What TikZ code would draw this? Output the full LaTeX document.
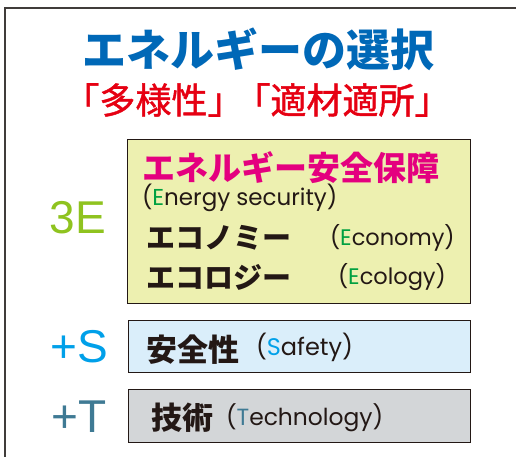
\documentclass[tikz,border=0pt]{standalone}
\usepackage{fontspec}
\setmainfont{Noto Sans CJK JP}
\newfontfamily\medf[FakeBold=1.2]{Noto Sans CJK JP}
\newfontfamily\latf{Poppins}
\newfontfamily\bigf{Liberation Sans}
\definecolor{titleblue}{HTML}{0068B7}
\definecolor{subred}{HTML}{E60012}
\definecolor{magen}{HTML}{E4007F}
\definecolor{egreen}{HTML}{00A040}
\definecolor{threeE}{HTML}{8FC31F}
\definecolor{sblue}{HTML}{00A0E9}
\definecolor{tsteel}{HTML}{3F7A94}
\definecolor{yfill}{HTML}{EDF0B0}
\definecolor{bfill}{HTML}{DAEEFA}
\definecolor{gfill}{HTML}{D3D6D8}
\definecolor{ink}{HTML}{231815}
\definecolor{framec}{HTML}{403C3A}
\tikzset{
  txt/.style={inner sep=0pt, outer sep=0pt, text=ink},
  panel/.style={draw=ink, line width=1pt},
  big/.style={inner sep=0pt, font=\bigf\fontsize{46}{46}\selectfont},
  jpb/.style={txt, anchor=west, font=\bfseries\fontsize{#1}{#1}\selectfont},
  lat/.style={txt, anchor=west, font=\latf\fontsize{#1}{#1}\selectfont},
}
\begin{document}
\begin{tikzpicture}[x=1pt,y=-1pt]
\useasboundingbox (0,0) rectangle (516,457);
\fill[white] (0,0) rectangle (516,457);
\draw[framec, line width=1.6pt] (5,457) -- (5,8) -- (516,8);
% title
\node[txt, text=titleblue, font=\bfseries\fontsize{44}{44}\selectfont] (title) at (258,49) {エネルギーの選択};
\node[txt, text=subred, font=\medf\fontsize{36}{36}\selectfont] (sub) at (257,100) {「多様性」\kern-9pt「適材適所」};
% boxes
\draw[panel, fill=yfill] (127,140) rectangle (470,303);
\draw[panel, fill=bfill] (128,320) rectangle (470,372);
\draw[panel, fill=gfill] (128,389) rectangle (470,442);
% 3E box
\node[jpb=33, text=magen] (esec) at (142,168) {エネルギー安全保障};
\node[lat=23] (esecl) at (142,198) {(\textcolor{egreen}{E}nergy security)};
\node[jpb=29] (econ) at (146,238) {エコノミー};
\node[lat=22.5] (econl) at (330,238) {(\textcolor{egreen}{E}conomy)};
\node[jpb=29] (ecol) at (146,277) {エコロジー};
\node[lat=22.5] (ecoll) at (338,277) {(\textcolor{egreen}{E}cology)};
% S box
\node[jpb=31] (safe) at (146,350) {安全性};
\node[lat=24] (safel) at (256,347) {(\textcolor{sblue}{S}afety)};
% T box
\node[jpb=31] (tech) at (151,418) {技術};
\node[lat=23.4] (techl) at (226,418) {(\textcolor{tsteel}{T}echnology)};
% left labels
\node[big, text=threeE] (lbl3e) at (78,218) {3E};
\node[big, text=sblue] (lbls) at (79,347) {+S};
\node[big, text=tsteel] (lblt) at (79,417) {+T};
\end{tikzpicture}
\end{document}
